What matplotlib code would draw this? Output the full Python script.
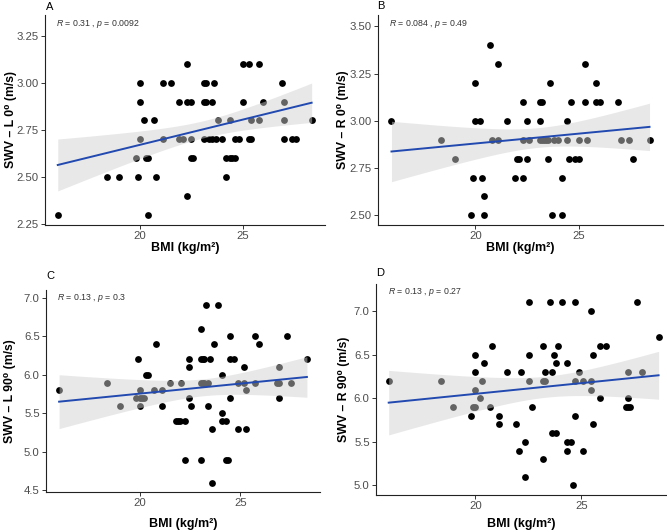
"""
SWV vs BMI scatter panels with linear fit and 95% confidence band
"""

import numpy as np
import matplotlib
matplotlib.use('Agg')
import matplotlib.pyplot as plt

plt.rcParams['font.family'] = ['Liberation Sans', 'DejaVu Sans']
plt.rcParams['mathtext.fontset'] = 'custom'
plt.rcParams['mathtext.it'] = 'Liberation Sans:italic'
plt.rcParams['mathtext.rm'] = 'Liberation Sans'

# Panel A: SWV - L 0 degrees
bmi_a = [16.0, 18.4, 19.0, 19.8, 19.9, 20.0, 20.0, 20.0, 20.2, 20.3, 20.4, 20.4,
         20.7, 20.8, 21.1, 21.1, 21.5, 21.9, 22.1, 21.9, 22.3, 22.5, 22.3, 22.3,
         22.5, 22.5, 22.6, 23.1, 23.2, 23.1, 23.2, 23.1, 23.5, 23.6, 23.35, 23.5,
         23.7, 23.8, 24.0, 24.2, 24.4, 24.5, 24.6, 24.2, 24.4, 24.6, 24.8, 25.0,
         25.3, 25.0, 25.3, 25.4, 25.4, 25.8, 25.8, 26.0, 26.9, 27.0, 27.0, 27.0,
         27.4, 27.6, 28.35]
swv_a = [2.3, 2.5, 2.5, 2.6, 2.5, 3.0, 2.9, 2.7, 2.8, 2.6, 2.6, 2.3,
         2.8, 2.5, 3.0, 2.7, 3.0, 2.7, 2.7, 2.9, 2.9, 2.9, 3.1, 2.4,
         2.7, 2.6, 2.6, 3.0, 3.0, 2.9, 2.9, 2.7, 2.9, 3.0, 2.7, 2.7,
         2.7, 2.8, 2.7, 2.6, 2.6, 2.6, 2.6, 2.5, 2.8, 2.7, 2.7, 3.1,
         3.1, 2.9, 2.7, 2.7, 2.8, 3.1, 2.8, 2.9, 3.0, 2.9, 2.8, 2.7,
         2.7, 2.7, 2.8]

# Panel B: SWV - R 0 degrees
bmi_b = [15.95, 18.35, 19.0, 19.8, 19.9, 20.0, 20.0, 20.2, 20.3, 20.4, 20.4, 20.7,
         20.8, 21.1, 21.1, 21.5, 21.9, 22.0, 22.1, 22.3, 22.3, 22.3, 22.5, 22.5,
         22.6, 23.1, 23.2, 23.1, 23.1, 23.2, 23.3, 23.4, 23.5, 23.5, 23.6, 23.7,
         23.8, 24.0, 24.2, 24.2, 24.4, 24.4, 24.5, 24.6, 24.8, 25.0, 25.0, 25.3,
         25.3, 25.4, 25.8, 25.8, 26.0, 26.9, 27.0, 27.4, 27.6, 28.4]
swv_b = [3.0, 2.9, 2.8, 2.5, 2.7, 3.2, 3.0, 3.0, 2.7, 2.6, 2.5, 3.4,
         2.9, 3.3, 2.9, 3.0, 2.7, 2.8, 2.8, 3.1, 2.9, 2.7, 3.0, 2.8,
         2.9, 3.1, 3.1, 3.0, 2.9, 2.9, 2.9, 2.9, 2.9, 2.8, 3.2, 2.5,
         2.9, 2.9, 2.5, 2.7, 3.0, 2.9, 2.8, 3.1, 2.8, 2.8, 2.9, 3.3,
         3.1, 2.9, 3.2, 3.1, 3.1, 3.1, 2.9, 2.9, 2.8, 2.9]

# Panel C: SWV - L 90 degrees
bmi_c = [16.0, 18.4, 19.0, 19.8, 19.9, 20.0, 20.0, 20.1, 20.0, 20.2, 20.3, 20.4,
         20.7, 20.8, 21.1, 21.1, 21.5, 21.8, 21.9, 22.0, 22.05, 22.25, 22.25, 22.45,
         22.45, 22.45, 22.55, 23.05, 23.05, 23.15, 23.2, 23.05, 23.15, 23.2, 23.05, 23.3,
         23.4, 23.4, 23.5, 23.6, 23.6, 23.7, 23.9, 24.1, 24.1, 24.1, 24.3, 24.3,
         24.4, 24.5, 24.5, 24.7, 24.5, 24.9, 24.9, 25.2, 25.2, 25.3, 25.3, 25.7,
         25.7, 25.9, 26.8, 26.9, 26.9, 26.9, 27.3, 27.5, 28.3]
swv_c = [5.8, 5.9, 5.6, 5.7, 6.2, 5.8, 5.7, 5.7, 5.6, 5.7, 6.0, 6.0,
         5.8, 6.4, 5.8, 5.6, 5.9, 5.4, 5.4, 5.4, 5.9, 5.4, 4.9, 6.2,
         6.1, 5.7, 5.6, 6.6, 6.2, 6.2, 6.2, 5.9, 5.9, 5.9, 4.9, 6.9,
         5.9, 5.6, 6.2, 5.3, 4.6, 6.4, 6.9, 6.0, 5.5, 5.4, 5.4, 4.9,
         4.9, 6.5, 6.2, 6.2, 5.7, 5.9, 5.3, 6.1, 5.9, 5.8, 5.3, 6.5,
         5.9, 6.4, 5.9, 5.9, 6.1, 5.7, 6.5, 5.9, 6.2]

# Panel D: SWV - R 90 degrees
bmi_d = [15.9, 18.35, 18.95, 19.8, 19.9, 20.0, 20.0, 20.0, 20.0, 20.2, 20.3, 20.4,
         20.7, 20.8, 21.1, 21.1, 21.5, 21.9, 22.05, 22.15, 22.35, 22.35, 22.55, 22.55,
         22.55, 22.65, 23.2, 23.2, 23.3, 23.2, 23.3, 23.5, 23.6, 23.6, 23.8, 23.7,
         23.8, 23.9, 24.1, 24.3, 24.3, 24.5, 24.3, 24.6, 24.7, 24.7, 24.7, 24.9,
         25.1, 25.1, 25.45, 25.45, 25.45, 25.55, 25.55, 25.9, 26.15, 25.9, 27.1, 27.2,
         27.3, 27.2, 27.2, 27.65, 27.85, 28.65]
swv_d = [6.2, 6.2, 5.9, 5.8, 5.9, 5.9, 6.5, 6.3, 6.1, 6.0, 6.2, 6.4,
         5.9, 6.6, 5.8, 5.7, 6.3, 5.7, 5.4, 6.3, 5.5, 5.1, 7.1, 6.5,
         6.2, 5.9, 6.6, 6.2, 6.2, 5.3, 6.3, 7.1, 6.3, 5.6, 5.6, 6.5,
         6.4, 6.6, 7.1, 6.4, 5.5, 5.5, 5.4, 5.0, 7.1, 6.2, 5.8, 6.3,
         6.2, 5.4, 7.0, 6.2, 6.1, 6.5, 5.7, 6.6, 6.6, 6.0, 5.9, 5.9,
         5.9, 6.0, 6.3, 7.1, 6.3, 6.7]

letters = ['A', 'B', 'C', 'D']
y_labels = ['SWV – L 0⁰ (m/s)', 'SWV – R 0⁰ (m/s)',
            'SWV – L 90⁰ (m/s)', 'SWV – R 90⁰ (m/s)']
stats_text = [('0.31', '0.0092'), ('0.084', '0.49'), ('0.13', '0.3'), ('0.13', '0.27')]
y_ticks = [[2.25, 2.50, 2.75, 3.00, 3.25],
           [2.50, 2.75, 3.00, 3.25, 3.50],
           [4.5, 5.0, 5.5, 6.0, 6.5, 7.0],
           [5.0, 5.5, 6.0, 6.5, 7.0]]

W, H = 667, 532


def px_axes(fig, left, top, right, bottom):
    """Add axes from pixel box (top-left origin)"""
    return fig.add_axes([left / W, 1 - bottom / H, (right - left) / W, (bottom - top) / H])


def fit_band(x, y, xs, t=2.0):
    """Linear fit and 95% confidence band, like geom_smooth(method='lm')"""
    x = np.asarray(x)
    y = np.asarray(y)
    n = len(x)
    b, a = np.polyfit(x, y, 1)
    resid = y - (a + b * x)
    s = np.sqrt(np.sum(resid ** 2) / (n - 2))
    xm = x.mean()
    sxx = np.sum((x - xm) ** 2)
    se = s * np.sqrt(1 / n + (xs - xm) ** 2 / sxx)
    fit = a + b * xs
    return fit, fit - t * se, fit + t * se


fig = plt.figure(figsize=(W / 100, H / 100), dpi=100)

boxes = [(45, 15, 325, 225), (378, 15, 663, 225), (46, 290, 320, 492), (376, 284, 666, 495)]
ylims = [(2.245, 3.36), (2.449, 3.56), (4.48, 7.1), (4.89, 7.31)]
xlims = [(15.38, 29.0), (15.3, 29.05), (15.35, 28.95), (15.3, 29.0)]
label_y = [3.31, 3.51, 7.0, 7.22]
letter_pos = [(50, 7), (381, 6), (50, 276), (380, 273)]
xlab_y = [248, 248, 524, 524]
ylab_x = [11, 343, 10, 344]

data = [(bmi_a, swv_a), (bmi_b, swv_b), (bmi_c, swv_c), (bmi_d, swv_d)]

for i, (bx, sy) in enumerate(data):
    ax = px_axes(fig, *boxes[i])
    ax.scatter(bx, sy, s=24, color='black', linewidths=0, zorder=2)

    xs = np.linspace(min(bx), max(bx), 100)
    fit, lo, hi = fit_band(bx, sy, xs)
    ax.fill_between(xs, lo, hi, color='#d0d0d0', alpha=0.48, linewidth=0, zorder=3)
    ax.plot(xs, fit, color='#2149b0', linewidth=1.4, zorder=4)

    ax.set_xlim(*xlims[i])
    ax.set_ylim(*ylims[i])
    ax.set_xticks([20, 25])
    ax.set_yticks(y_ticks[i])
    if i < 2:
        ax.set_yticklabels([f'{v:.2f}' for v in y_ticks[i]])
    else:
        ax.set_yticklabels([f'{v:.1f}' for v in y_ticks[i]])

    for side in ['top', 'right']:
        ax.spines[side].set_visible(False)
    for side in ['left', 'bottom']:
        ax.spines[side].set_color('#222222')
        ax.spines[side].set_linewidth(0.8)
    ax.tick_params(length=3, width=0.7, color='#333333', labelsize=8.2,
                   labelcolor='#4d4d4d', pad=1.5)

    # y label placed at a fixed pixel column
    b = boxes[i]
    cy = (b[1] + b[3]) / 2
    fig.text(ylab_x[i] / W, 1 - cy / H, y_labels[i], fontsize=8.8, fontweight='bold',
             rotation=90, ha='center', va='center')

    r, p = stats_text[i]
    ax.text(xlims[i][0] + 0.55, label_y[i],
            f'$\\it{{R}}$ = {r} , $\\it{{p}}$ = {p}',
            fontsize=6.3, color='#333333', va='center', ha='left')

    cx = (b[0] + b[2]) / 2
    fig.text(cx / W, 1 - xlab_y[i] / H, 'BMI (kg/m²)', fontsize=9, fontweight='bold',
             ha='center', va='center')
    lx, ly = letter_pos[i]
    fig.text(lx / W, 1 - ly / H, letters[i], fontsize=8, ha='center', va='center')

fig.savefig('out.png', dpi=100)
